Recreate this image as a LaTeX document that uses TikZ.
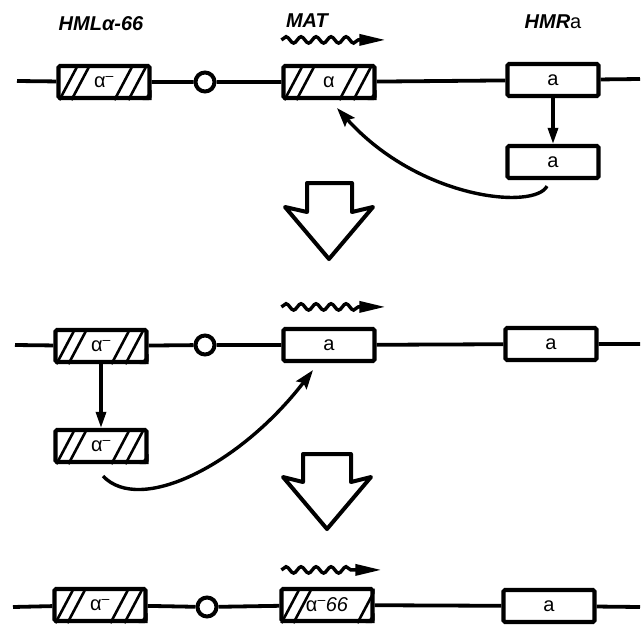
\documentclass[tikz,border=0pt]{standalone}
\usepackage{fontspec}
\setmainfont{Liberation Sans}
\usetikzlibrary{arrows.meta,calc,decorations.pathmorphing}

\tikzset{
  gene/.style={draw, rectangle, line width=4.2pt, rounded corners=1.5pt,
    minimum width=91pt, minimum height=32pt, inner sep=0pt,
    font=\fontsize{20}{22}\selectfont},
  centro/.style={draw, circle, line width=4pt, minimum size=19pt, inner sep=0pt},
  backbone/.style={line width=3.8pt},
  locus/.style={font=\fontsize{20}{22}\selectfont\bfseries\itshape},
  hatchline/.style={line width=2.6pt},
  dupl/.style={line width=3.2pt, -{Triangle[length=16pt,width=10pt]}},
  transfer/.style={line width=3.4pt, -{Stealth[length=19pt,width=13pt,inset=3pt]}},
  wave/.style={line width=3.4pt, decorate,
    decoration={snake, amplitude=3.2pt, segment length=15pt, post length=26pt},
    -{Triangle[length=26pt,width=11pt]}},
  blockarrow/.style={line width=4pt, line join=round, fill=white},
}

% diagonal hatching inside a gene box, #2 = bottom offsets of the strokes
\newcommand{\hatchgene}[2]{%
  \begin{scope}
    \clip (#1.north west) rectangle (#1.south east);
    \foreach \hx in {#2}
      \draw[hatchline] ($(#1.south west)+(\hx,0)$) -- ++(18,-34);
    \fill ($(#1.south east)+(-9,0)$) -- (#1.south east) -- ++(0,-10) -- cycle;
  \end{scope}}

\begin{document}
\begin{tikzpicture}[x=1pt, y=-1pt]
  \useasboundingbox (0,0) rectangle (642,626);

  % locus names
  \node[locus] (hmllab) at (101,24) {HMLα-66};
  \node[locus] (matlab) at (307,21) {MAT};
  \node[locus] (hmrlab) at (553,22) {HMR\textup{\mdseries a}};

  % row 1
  \coordinate (l1) at (17,81);
  \node[gene] (hml1) at (104,82) {α\textsuperscript{–}};
  \node[centro] (cen1) at (205,82) {};
  \node[gene] (mat1) at (329,82) {α};
  \node[gene] (hmr1) at (553,80) {a};
  \coordinate (r1) at (640,79);
  \draw[backbone] (l1) -- (hml1) -- (cen1) -- (mat1) -- (hmr1) -- (r1);
  \hatchgene{hml1}{3,15,58,72}
  \hatchgene{mat1}{3,15,58,72}
  \draw[wave] ($(mat1.north west)+(0,-24)$) -- ++(104,0);
  \node[gene] (cp1) at (553,162) {a};
  \draw[dupl] (hmr1) -- (cp1);
  \draw[transfer] ([xshift=-6pt,yshift=-6pt]cp1.south) .. controls (535,210) and (420,200) .. ([xshift=8pt,yshift=-8pt]mat1.south);

  \draw[blockarrow] (307,183) -- (352,183) -- (352,212) -- (373,207) -- (329,259)
    -- (285,207) -- (307,212) -- cycle;

  % row 2
  \coordinate (l2) at (15,345);
  \node[gene] (hml2) at (101,346) {α\textsuperscript{–}};
  \node[centro] (cen2) at (205,345) {};
  \node[gene] (mat2) at (329,345) {a};
  \node[gene] (hmr2) at (551,344) {a};
  \coordinate (r2) at (640,344);
  \draw[backbone] (l2) -- (hml2) -- (cen2) -- (mat2) -- (hmr2) -- (r2);
  \hatchgene{hml2}{3,15,58,72}
  \draw[wave] ($(mat2.north west)+(0,-20)$) -- ++(104,0);
  \node[gene] (cp2) at (101,446) {α\textsuperscript{–}};
  \hatchgene{cp2}{3,15,58,72}
  \draw[dupl] (hml2) -- (cp2);
  \draw[transfer] ([xshift=2pt,yshift=-12pt]cp2.south) .. controls (140,515) and (240,465) .. ([xshift=-16pt,yshift=-7pt]mat2.south);

  \draw[blockarrow] (303,454) -- (351,454) -- (351,482) -- (371,477) -- (327,529)
    -- (283,477) -- (303,482) -- cycle;

  % row 3
  \coordinate (l3) at (13,607);
  \node[gene] (hml3) at (100,605) {α\textsuperscript{–}};
  \node[centro] (cen3) at (207,607) {};
  \node[gene] (mat3) at (327,605) {α\textsuperscript{–}\textit{66}};
  \node[gene] (hmr3) at (549,606) {a};
  \coordinate (r3) at (640,607);
  \draw[backbone] (l3) -- (hml3) -- (cen3) -- (mat3) -- (hmr3) -- (r3);
  \hatchgene{hml3}{3,15,58,72}
  \hatchgene{mat3}{2,14,78}
  \draw[wave] ($(mat3.north west)+(2,-17)$) -- ++(100,0);
\end{tikzpicture}
\end{document}
